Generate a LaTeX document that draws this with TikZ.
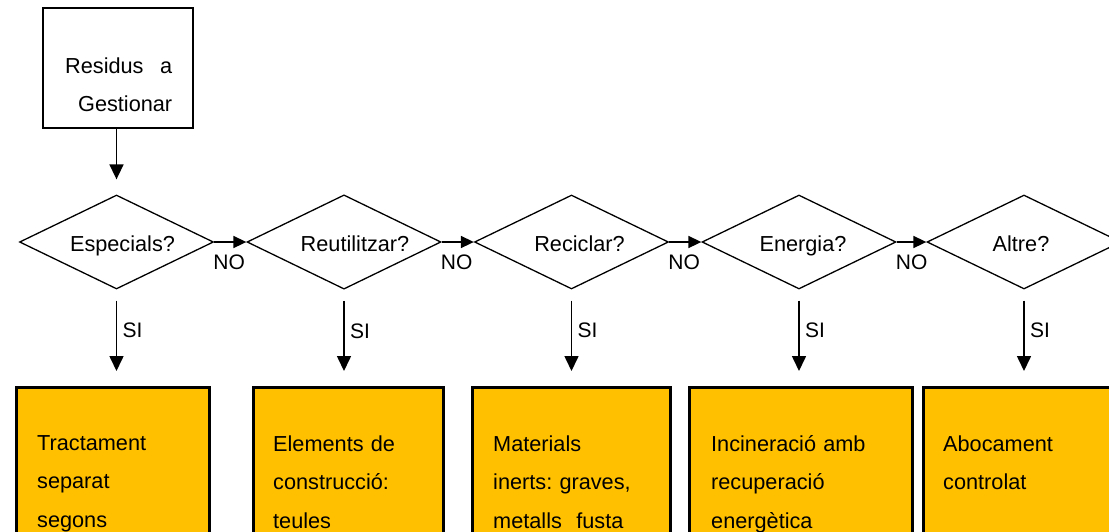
\documentclass[tikz,border=0pt]{standalone}
\usepackage{fontspec}
\setmainfont{Liberation Sans}
\usetikzlibrary{shapes.geometric,arrows.meta,calc}
\definecolor{gold}{HTML}{FFC000}
\frenchspacing
\begin{document}
\begin{tikzpicture}[x=1pt,y=-1pt,
  every node/.style={font=\fontsize{21.7}{38.5}\selectfont, inner sep=0pt},
  startbox/.style={draw, line width=1.8pt, minimum width=150pt, minimum height=120pt},
  decision/.style={diamond, draw, line width=1.3pt, minimum width=194pt, minimum height=94pt, aspect=2,
                   text height=24pt, text depth=5pt},
  outbox/.style={draw, fill=gold, line width=2.5pt, anchor=north west, minimum height=200pt},
  outtext/.style={anchor=north west, text width=220pt, align=left},
  arr/.style={-{Triangle[length=15pt,width=14pt]}, line width=1.6pt},
  harr/.style={-{Triangle[length=13pt,width=12pt]}, line width=1.6pt},
  lab/.style={font=\fontsize{21}{24}\selectfont}]
\useasboundingbox (0,0) rectangle (1109,531);
\clip (0,0) rectangle (1109,531);

% start box
\node[startbox] (start) at (118,68) {};
\node[anchor=north west, text width=107pt, align=right, font=\fontsize{21.7}{38}\selectfont] (starttxt) at (65,57.3)
  {Residus\hfill a\\Gestionar};

% decisions
\node[decision] (d1) at (116.5,242) {\hspace*{12pt}Especials?};
\node[decision] (d2) at (344,242) {\hspace*{22pt}Reutilitzar?};
\node[decision] (d3) at (571.5,242) {\hspace*{16pt}Reciclar?};
\node[decision] (d4) at (799,242) {\hspace*{8pt}Energia?};
\node[decision] (d5) at (1024,242) {\hspace*{-6pt}Altre?};

% outcome boxes
\node[outbox, minimum width=193pt] (o1) at (15,386) {};
\node[outbox, minimum width=190pt] (o2) at (252,386) {};
\node[outbox, minimum width=198pt] (o3) at (471,386) {};
\node[outbox, minimum width=223pt] (o4) at (688,386) {};
\node[outbox, minimum width=220pt] (o5) at (922,386) {};

\node[outtext] (t1) at (37,435.3) {Tractament\\separat\\segons};
\node[outtext] (t2) at (273,435.3) {Elements de\\construcció:\\teules};
\node[outtext] (t3) at (493,435.3) {Materials\\inerts: graves,\\metalls\ \ fusta};
\node[outtext] (t4) at (711,435.3) {Incineració amb\\recuperació\\energètica};
\node[outtext] (t5) at (943,435.3) {Abocament\\controlat};

% arrows
\draw[arr, shorten >=15pt] (start.south -| d1.north) -- (d1.north);
\foreach \a/\b in {d1/d2, d2/d3, d3/d4, d4/d5}{
  \draw[harr] (\a.east) -- (\b.west);
  \node[lab] (no-\a) at ($(\a.east)+(15,20)$) {NO};
}
\foreach \d/\o in {d1/o1, d2/o2, d3/o3, d4/o4, d5/o5}{
  \draw[arr, shorten <=11pt, shorten >=15pt] (\d.south) -- (\d.south |- \o.north);
  \node[lab, anchor=west] (si-\d) at ($(\d.south)+(6,41)$) {SI};
}
\end{tikzpicture}
\end{document}
